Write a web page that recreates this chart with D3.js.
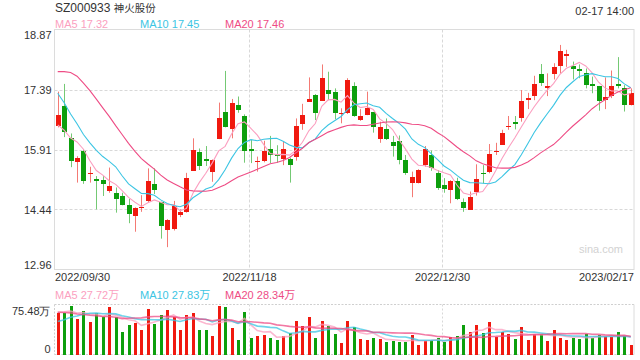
<!DOCTYPE html>
<html><head><meta charset="utf-8">
<script src="https://cdn.jsdelivr.net/npm/d3@7"></script>
<style>
html,body{margin:0;padding:0;background:#fff;}
svg{display:block;font-family:"Liberation Sans",Arial,"Noto Sans CJK SC",sans-serif;}
</style></head>
<body><svg id="c" width="640" height="360"></svg>
<script>
const title = "SZ000933";
const titleName = "神火股份";
const timeStamp = "02-17 14:00";
const dates = ["2022/09/30",
"2022/10/10","2022/10/11","2022/10/12","2022/10/13","2022/10/14","2022/10/17","2022/10/18","2022/10/19","2022/10/20","2022/10/21","2022/10/24","2022/10/25","2022/10/26","2022/10/27","2022/10/28","2022/10/31",
"2022/11/01","2022/11/02","2022/11/03","2022/11/04","2022/11/07","2022/11/08","2022/11/09","2022/11/10","2022/11/11","2022/11/14","2022/11/15","2022/11/16","2022/11/17","2022/11/18","2022/11/21","2022/11/22","2022/11/23","2022/11/24","2022/11/25","2022/11/28","2022/11/29","2022/11/30",
"2022/12/01","2022/12/02","2022/12/05","2022/12/06","2022/12/07","2022/12/08","2022/12/09","2022/12/12","2022/12/13","2022/12/14","2022/12/15","2022/12/16","2022/12/19","2022/12/20","2022/12/21","2022/12/22","2022/12/23","2022/12/26","2022/12/27","2022/12/28","2022/12/29","2022/12/30",
"2023/01/03","2023/01/04","2023/01/05","2023/01/06","2023/01/09","2023/01/10","2023/01/11","2023/01/12","2023/01/13","2023/01/16","2023/01/17","2023/01/18","2023/01/19","2023/01/20","2023/01/30","2023/01/31",
"2023/02/01","2023/02/02","2023/02/03","2023/02/06","2023/02/07","2023/02/08","2023/02/09","2023/02/10","2023/02/13","2023/02/14","2023/02/15","2023/02/16","2023/02/17"];
const open = [16.49,16.99,16.19,15.61,15.89,15.32,15.20,15.16,14.89,14.85,14.77,14.55,14.28,14.48,14.65,15.07,14.62,13.93,13.96,14.30,
14.38,15.39,15.85,15.67,15.37,16.17,16.85,16.43,17.00,16.74,15.93,15.60,15.64,15.93,15.79,15.69,15.68,15.72,16.54,17.09,
17.26,17.12,17.38,17.34,16.78,16.81,17.48,16.64,16.76,16.84,16.17,16.42,16.11,16.12,15.66,15.08,15.08,15.53,15.78,15.34,
15.04,14.92,15.14,14.63,14.43,14.86,15.34,15.37,15.85,16.03,16.46,16.58,16.70,17.13,17.23,17.77,17.44,17.77,17.98,18.22,
17.98,17.89,17.79,17.53,17.48,17.13,17.23,17.53,17.42,17.00];
const high = [17.34,17.53,16.31,15.75,15.92,15.49,15.26,15.26,15.47,14.98,14.85,14.70,14.49,14.79,15.45,15.45,14.63,14.20,14.65,14.44,
15.34,16.19,15.94,16.00,15.67,17.07,17.85,17.16,17.22,16.78,16.15,15.74,16.13,16.25,16.02,16.11,15.71,16.68,17.04,17.69,
17.28,18.01,17.83,17.42,16.93,17.67,17.57,16.91,17.34,16.84,16.60,16.68,16.25,16.26,15.78,15.37,15.43,16.00,15.89,15.41,
15.21,15.16,15.22,14.71,14.88,15.55,15.53,16.05,16.08,16.40,16.74,16.74,17.38,17.31,17.73,18.02,17.79,18.04,18.49,18.37,
18.08,18.01,17.91,17.71,17.48,17.69,17.86,18.19,17.50,17.42];
const low = [16.46,16.22,15.48,15.10,15.07,15.10,14.44,14.77,14.85,14.36,14.54,14.10,13.89,14.38,14.61,14.82,13.72,13.51,13.92,14.25,
14.36,15.39,15.41,15.51,15.12,16.17,16.46,16.19,16.82,15.59,15.58,15.37,15.60,15.58,15.59,15.53,15.10,15.64,16.40,17.09,
16.64,17.12,17.13,16.66,16.56,16.79,16.72,16.62,16.76,16.33,16.08,16.15,15.74,15.55,15.29,14.74,15.08,15.49,15.39,14.92,
14.85,14.59,14.67,14.38,14.43,14.78,15.08,15.33,15.78,16.03,16.40,16.41,16.60,16.91,17.13,17.48,17.23,17.64,17.79,17.95,
17.64,17.67,17.42,17.30,16.87,16.91,17.18,17.42,16.85,17.00];
const close = [16.76,16.35,15.64,15.71,15.15,15.34,15.15,15.07,15.02,14.70,14.56,14.33,14.47,14.51,15.14,14.92,14.03,14.18,14.52,14.38,
15.21,15.90,15.52,15.64,15.66,16.68,16.46,17.05,16.89,15.89,15.89,15.63,15.88,15.79,15.75,15.93,15.54,16.49,16.76,17.16,
16.82,17.67,17.28,16.81,16.82,17.63,16.74,16.74,16.93,16.46,16.48,16.17,16.00,15.66,15.34,15.23,15.41,15.93,15.45,14.97,
14.94,15.15,14.69,14.48,14.75,15.18,15.30,15.80,15.89,16.31,16.49,16.54,17.11,17.18,17.52,17.56,17.48,17.94,18.34,18.26,
17.90,17.86,17.50,17.48,17.12,17.20,17.48,17.49,17.01,17.30];
// closes of the 19 sessions before the first shown day (needed for the moving averages)
const priorClose = [16.35,16.1,17.5,18.6,19.0,19.3,19.4,19.2,19.3,18.9,18.7,18.4,18.1,17.8,17.4,17.0,16.6,16.2,16.04];
// volume in 万
const volume = [64.2,63.2,74.5,55.0,66.8,50.3,64.2,57.0,73.4,57.0,34.9,45.7,48.7,38.0,70.3,47.2,61.1,68.8,57.0,38.0,
61.1,64.2,38.0,38.0,28.8,75.48,73.4,41.1,22.6,65.7,25.7,28.8,30.3,25.7,22.6,28.3,32.9,51.9,44.1,58.1,
25.7,51.9,44.6,31.8,18.0,51.9,41.6,24.2,22.6,25.7,24.2,19.6,21.1,19.6,19.6,30.3,14.8,21.1,22.6,25.7,
19.6,27.2,28.8,45.7,34.9,45.7,33.4,50.3,27.2,34.9,31.8,24.2,42.6,22.6,31.8,31.8,21.1,38.0,25.7,22.6,
25.7,24.2,31.8,25.7,30.3,28.8,27.2,34.9,28.8,14.8];
const priorVolume = [70,85,90,80,75,82,78,74,80,78,35,38,36,40,34,60,68,70,63];
const maPeriods = [5, 10, 20];
const maLegend = ["17.32", "17.45", "17.46"];
const volLegend = ["27.72万", "27.83万", "28.34万"];
const priceTicks = [12.96, 14.44, 15.91, 17.39, 18.87];
const volTicks = [0, 75.48];
const volTickLabels = ["0", "75.48万"];
const dateTicks = ["2022/09/30", "2022/11/18", "2022/12/30", "2023/02/17"];
const gridDates = ["2022/11/18", "2022/12/30"];

const maColors = ["#fb9fc0", "#3cc5e3", "#ee4c85"];
const UP = "#f0190f", DOWN = "#0d9f0d", UPW = "#f47a74", DOWNW = "#74c974";
const GRID = "#d8d8d8", BORDER = "#dcdcdc", TXT = "#333";

const svg = d3.select("#c");
const L = 54.5, R = 634, T = 29.5, B = 269.5, VT = 304.5, VB = 354.5;

const x = d3.scaleBand().domain(dates).range([L, R]).padding(0);
const cx = d => x(d) + x.bandwidth() / 2;
const y = d3.scaleLinear().domain([12.96, 18.87]).range([B, T]);
const yv = d3.scaleLinear().domain([0, 75.48]).range([VB, VT + 1]);

const candles = dates.map((d, i) => ({d, o: open[i], h: high[i], l: low[i], c: close[i], v: volume[i]}));

function movingAvg(prior, vals, n) {
  const all = prior.concat(vals);
  const off = prior.length;
  return vals.map((_, i) => d3.mean(all.slice(off + i - n + 1, off + i + 1)));
}

// --- frames & grids (price)
svg.append("rect").attr("x", L).attr("y", T).attr("width", R - L).attr("height", B - T)
  .attr("fill", "none").attr("stroke", BORDER);
svg.append("g").selectAll("line").data(priceTicks.slice(1, -1)).join("line")
  .attr("x1", L).attr("x2", R).attr("y1", d => Math.round(y(d)) + 0.5).attr("y2", d => Math.round(y(d)) + 0.5)
  .attr("stroke", GRID).attr("stroke-dasharray", "3,2");
svg.append("g").selectAll("line").data(gridDates).join("line")
  .attr("x1", d => Math.round(cx(d) - 2) + 0.5).attr("x2", d => Math.round(cx(d) - 2) + 0.5)
  .attr("y1", T).attr("y2", B).attr("stroke", GRID).attr("stroke-dasharray", "3,2");

// volume frame
svg.append("line").attr("x1", L).attr("x2", R).attr("y1", VT).attr("y2", VT).attr("stroke", "#cfcfcf").attr("stroke-dasharray", "2,1.5");
svg.append("line").attr("x1", L).attr("x2", R).attr("y1", VB).attr("y2", VB).attr("stroke", "#cfcfcf").attr("stroke-dasharray", "2,1.5");
svg.append("line").attr("x1", L).attr("x2", L).attr("y1", VT).attr("y2", VB).attr("stroke", "#cfcfcf").attr("stroke-dasharray", "2,1.5");
svg.append("line").attr("x1", R).attr("x2", R).attr("y1", VT).attr("y2", VB).attr("stroke", BORDER);
svg.append("g").selectAll("line").data(gridDates).join("line")
  .attr("x1", d => Math.round(cx(d) - 2) + 0.5).attr("x2", d => Math.round(cx(d) - 2) + 0.5)
  .attr("y1", VT).attr("y2", VB).attr("stroke", GRID).attr("stroke-dasharray", "2,2");

// watermark
svg.append("text").attr("x", 623).attr("y", 253).attr("text-anchor", "end")
  .attr("font-size", 11).attr("fill", "#d2d2d2").text("sina.com");

// --- candles
const cg = svg.append("g");
cg.selectAll("line").data(candles).join("line")
  .attr("x1", d => Math.round(cx(d.d)) + 0.5).attr("x2", d => Math.round(cx(d.d)) + 0.5)
  .attr("y1", d => y(d.h)).attr("y2", d => y(d.l))
  .attr("stroke", d => d.c >= d.o ? UPW : DOWNW).attr("stroke-width", 1);
cg.selectAll("rect").data(candles).join("rect")
  .attr("x", d => Math.round(cx(d.d)) - 2).attr("width", 5)
  .attr("y", d => y(Math.max(d.o, d.c)))
  .attr("height", d => Math.max(1.2, Math.abs(y(d.o) - y(d.c))))
  .attr("fill", d => d.c >= d.o ? UP : DOWN)
  .attr("shape-rendering", "crispEdges");

// --- price MAs
maPeriods.forEach((n, k) => {
  const m = movingAvg(priorClose, close, n);
  svg.append("path").datum(m)
    .attr("fill", "none").attr("stroke", maColors[k]).attr("stroke-width", 1.1)
    .attr("d", d3.line().x((_, i) => cx(dates[i])).y(v => y(v)));
});

// --- volume bars
svg.append("g").selectAll("rect").data(candles).join("rect")
  .attr("x", d => Math.round(cx(d.d)) - 1).attr("width", 3)
  .attr("y", d => yv(d.v)).attr("height", d => VB - yv(d.v))
  .attr("fill", d => d.c >= d.o ? UP : DOWN).attr("shape-rendering", "crispEdges");

maPeriods.forEach((n, k) => {
  const m = movingAvg(priorVolume, volume, n);
  svg.append("path").datum(m)
    .attr("fill", "none").attr("stroke", maColors[k]).attr("stroke-width", 1.6).attr("opacity", 0.75)
    .attr("d", d3.line().x((_, i) => cx(dates[i])).y(v => yv(v)));
});

// --- axes
const ya = svg.append("g").attr("transform", `translate(${L},0)`)
  .call(d3.axisLeft(y).tickValues(priceTicks).tickSize(0).tickPadding(3).tickFormat(d3.format(".2f")));
ya.select(".domain").remove();
ya.selectAll("text").attr("font-size", 11).attr("fill", TXT).attr("font-family", null)
  .attr("dy", (d, i) => i === 0 ? "-0.05em" : i === priceTicks.length - 1 ? "0.85em" : "0.33em");

const va = svg.append("g").attr("transform", `translate(${L},0)`)
  .call(d3.axisLeft(yv).tickValues(volTicks).tickSize(0).tickPadding(4).tickFormat((d, i) => volTickLabels[i]));
va.select(".domain").remove();
va.selectAll("text").attr("font-size", 11).attr("fill", TXT).attr("font-family", null)
  .attr("dy", (d, i) => i === 0 ? "-0.2em" : "0.85em");

const xa = svg.append("g").attr("transform", `translate(0,${B})`)
  .call(d3.axisBottom(x).tickValues(dateTicks).tickSize(0).tickPadding(4));
xa.select(".domain").remove();
xa.selectAll(".tick").attr("transform", (d, i) => {
  const n = dateTicks.length;
  const px = i === 0 ? L + 0.5 : i === n - 1 ? R : Math.round(cx(d) - 2) + 0.5;
  return `translate(${px},0)`;
});
xa.selectAll("text").attr("font-size", 11).attr("fill", TXT).attr("font-family", null)
  .attr("text-anchor", (d, i) => i === 0 ? "start" : i === dateTicks.length - 1 ? "end" : "middle");

// --- header texts
const tt = svg.append("text").attr("x", 55).attr("y", 12).attr("fill", TXT).attr("font-size", 12);
tt.append("tspan").text(title + " ");
tt.append("tspan").attr("font-size", 10.5).text(titleName);
svg.append("text").attr("x", R).attr("y", 15).attr("text-anchor", "end").attr("font-size", 11).attr("fill", TXT).text(timeStamp);

const legX = [55, 140, 225];
maPeriods.forEach((n, k) => {
  svg.append("text").attr("x", legX[k]).attr("y", 28).attr("font-size", 11).attr("fill", maColors[k])
    .text(`MA${n} ${maLegend[k]}`);
  svg.append("text").attr("x", legX[k]).attr("y", 299).attr("font-size", 11).attr("fill", maColors[k])
    .text(`MA${n} ${volLegend[k]}`);
});
</script></body></html>
